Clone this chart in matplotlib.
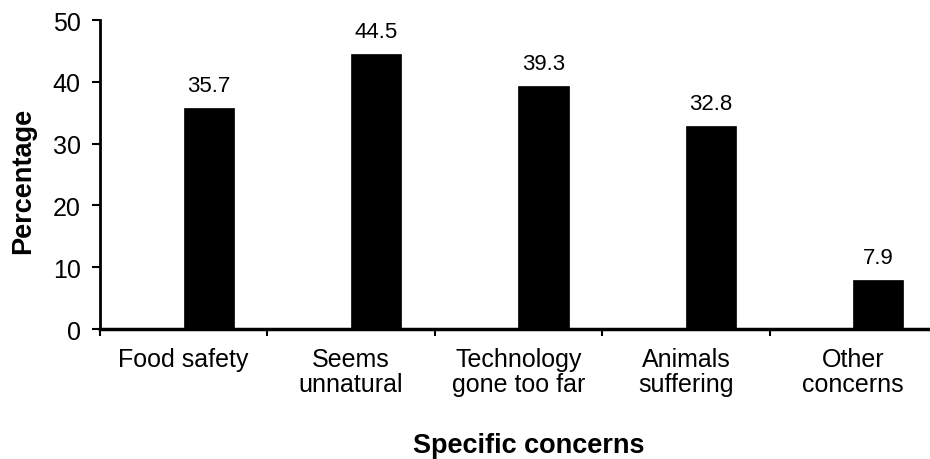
import numpy as np
import matplotlib.pyplot as plt
from matplotlib.ticker import FixedLocator

plt.rcParams['font.family'] = ['Liberation Sans', 'DejaVu Sans']

categories = ['Food safety', 'Seems\nunnatural', 'Technology\ngone too far',
              'Animals\nsuffering', 'Other\nconcerns']
values = [35.7, 44.5, 39.3, 32.8, 7.9]
yticks = [0, 10, 20, 30, 40, 50]


def main():
    fig = plt.figure(figsize=(9.3, 4.6), dpi=100)
    ax = fig.add_axes([0.1075, 0.2826, 0.9, 0.6717])

    x = np.arange(len(categories))
    bw = 0.3
    # Excel style: bar sits in the right half of the slot
    ax.bar(x + bw / 2, values, width=bw, color='black', edgecolor='black', linewidth=0.5)
    for xi, v in zip(x, values):
        ax.annotate('%.1f' % v, (xi + bw / 2, v), xytext=(0, 9), textcoords='offset points',
                    ha='center', va='bottom', fontsize=16)

    ax.set_xlim(-0.5, len(categories) - 0.5)
    ax.set_ylim(0, 50)
    ax.set_yticks(yticks)
    ax.set_xticks(x)
    ax.set_xticklabels(categories, fontsize=18, linespacing=1.05)
    ax.xaxis.set_minor_locator(FixedLocator(np.arange(-0.5, len(categories), 1)))
    ax.tick_params(axis='x', which='major', length=0, pad=13)
    ax.tick_params(axis='x', which='minor', length=5, width=1.5, direction='out')
    ax.tick_params(axis='y', length=6, width=1.5, direction='out', pad=8, labelsize=18)

    for s in ['top', 'right']:
        ax.spines[s].set_visible(False)
    ax.spines['left'].set_linewidth(2)
    ax.spines['bottom'].set_linewidth(2.5)

    fig.text(23 / 930, 1 - 181 / 460, 'Percentage', rotation=90, ha='center', va='center',
             fontsize=19.5, fontweight='bold')
    fig.text(529 / 930, 1 - 446 / 460, 'Specific concerns', ha='center', va='center',
             fontsize=19.5, fontweight='bold')

    fig.savefig('out.png', dpi=100)


if __name__ == '__main__':
    main()
